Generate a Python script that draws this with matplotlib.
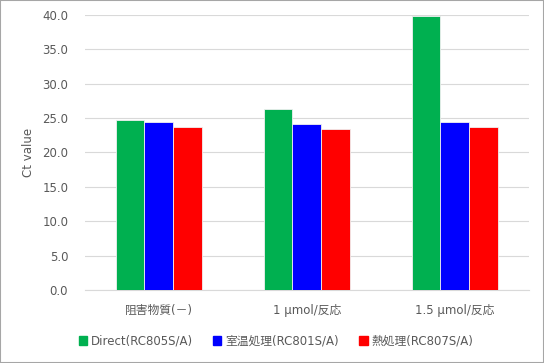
import numpy as np
import matplotlib
matplotlib.use("Agg")
import matplotlib.pyplot as plt
from matplotlib.patches import Rectangle

plt.rcParams['font.family'] = ['DejaVu Sans', 'Noto Sans CJK JP']

categories = ["阻害物質(－)", "1 μmol/反応", "1.5 μmol/反応"]
series_names = ["Direct(RC805S/A)", "室温処理(RC801S/A)", "熱処理(RC807S/A)"]
direct = [24.65, 26.3, 39.8]
room_temp = [24.5, 24.1, 24.5]
heat = [23.7, 23.4, 23.7]
yticks = [0, 5, 10, 15, 20, 25, 30, 35, 40]

colors = ["#00B050", "#0000FF", "#FF0000"]
grey = "#595959"

fig = plt.figure(figsize=(5.44, 3.63), dpi=100)
ax = fig.add_axes([0.156, 0.201, 0.816, 0.758])

x = np.arange(len(categories))
w = 0.195
for i, (vals, c, name) in enumerate(zip([direct, room_temp, heat], colors, series_names)):
    ax.bar(x + (i - 1) * w, vals, width=w, color=c, edgecolor="#f0f0f0",
           linewidth=0.6, label=name, zorder=3)

ax.set_xlim(-0.5, 2.5)
ax.set_ylim(0, 40)
ax.set_yticks(yticks)
ax.set_yticklabels([f"{v:.1f}" for v in yticks], color=grey, fontsize=8.5)
ax.set_xticks(x)
ax.set_xticklabels(categories, color=grey, fontsize=8.5)
ax.tick_params(axis='y', length=0, pad=12)
ax.tick_params(axis='x', length=0, pad=10)
ax.grid(axis='y', color="#d9d9d9", linewidth=0.8, zorder=0)
for s in ["top", "right", "left"]:
    ax.spines[s].set_visible(False)
ax.spines["bottom"].set_color("#d9d9d9")
ax.set_ylabel("Ct value", color=grey, fontsize=8.5, labelpad=5)

handles = [Rectangle((0, 0), 1, 1, color=c) for c in colors]
fig.legend(handles, series_names, loc="center", bbox_to_anchor=(0.507, 0.06),
           ncol=3, frameon=False, fontsize=8.5, labelcolor=grey,
           handlelength=0.7, handleheight=0.7, handletextpad=0.3,
           columnspacing=1.75)

fig.patches.append(Rectangle((0, 0), 1, 1, transform=fig.transFigure,
                             fill=False, edgecolor="#a6a6a6", linewidth=1.5))

fig.savefig("out.png", dpi=100)
